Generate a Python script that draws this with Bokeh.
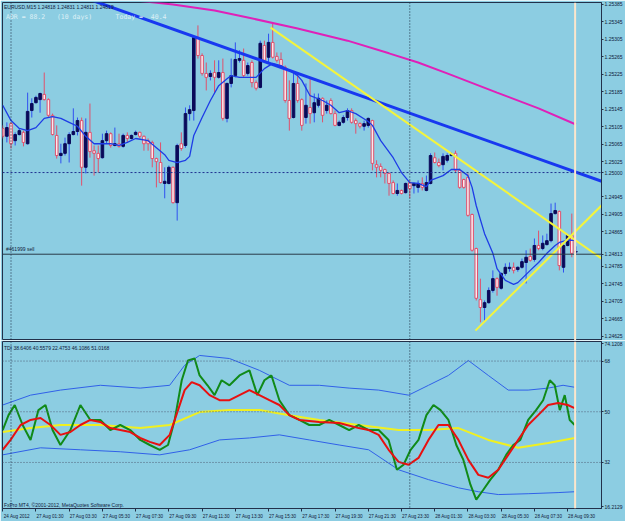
from bokeh.plotting import figure
from bokeh.layouts import column
from bokeh.models import Range1d, FixedTicker, Span, Label, NumeralTickFormatter
from bokeh.embed import file_html
from bokeh.resources import INLINE

# ---------------- data ----------------
bars = list(range(139))
opens = [1.25101,1.25083,1.25112,1.25073,1.25087,1.25092,1.25066,1.25142,1.25160,1.25167,
         1.25179,1.25167,1.25131,1.25085,1.25039,1.25044,1.25066,1.25087,1.25094,1.25119,
         1.25012,1.25092,1.25050,1.25044,1.25034,1.25073,1.25089,1.25062,1.25066,1.25060,
         1.25085,1.25078,1.25087,1.25092,1.25083,1.25073,1.25069,1.25032,1.25023,1.24975,
         1.24975,1.25012,1.24931,1.25066,1.25062,1.25135,1.25142,1.25309,1.25268,1.25227,
         1.25220,1.25229,1.25218,1.25229,1.25124,1.25204,1.25222,1.25257,1.25257,1.25227,
         1.25252,1.25206,1.25195,1.25291,1.25264,1.25298,1.25266,1.25259,1.25241,1.25165,
         1.25126,1.25204,1.25167,1.25126,1.25149,1.25137,1.25154,1.25170,1.25142,1.25165,
         1.25135,1.25108,1.25115,1.25126,1.25142,1.25119,1.25112,1.25106,1.25108,1.25119,
         1.25018,1.25014,1.25007,1.24998,1.24977,1.24952,1.24959,1.24954,1.24977,1.24970,
         1.24966,1.24975,1.24959,1.24975,1.25034,1.25023,1.25018,1.25028,1.25039,1.25044,
         1.25005,1.24984,1.24989,1.24904,1.24826,1.24709,1.24691,1.24702,1.24730,1.24757,
         1.24735,1.24769,1.24780,1.24783,1.24778,1.24783,1.24794,1.24808,1.24801,1.24833,
         1.24826,1.24835,1.24844,1.24906,1.24911,1.24783,1.24833,1.24856,1.24818]
highs = [1.25108,1.25115,1.25115,1.25092,1.25101,1.25096,1.25183,1.25170,1.25176,1.25183,
         1.25229,1.25170,1.25135,1.25108,1.25066,1.25080,1.25092,1.25147,1.25126,1.25126,
         1.25124,1.25158,1.25062,1.25062,1.25089,1.25096,1.25092,1.25103,1.25089,1.25089,
         1.25092,1.25087,1.25096,1.25094,1.25085,1.25078,1.25073,1.25034,1.25069,1.25012,
         1.25016,1.25014,1.25066,1.25092,1.25149,1.25154,1.25312,1.25337,1.25273,1.25252,
         1.25234,1.25257,1.25257,1.25261,1.25206,1.25261,1.25298,1.25280,1.25284,1.25252,
         1.25257,1.25211,1.25302,1.25302,1.25318,1.25344,1.25275,1.25275,1.25245,1.25211,
         1.25229,1.25229,1.25170,1.25204,1.25218,1.25181,1.25181,1.25172,1.25165,1.25170,
         1.25142,1.25119,1.25131,1.25147,1.25147,1.25124,1.25115,1.25119,1.25126,1.25121,
         1.25028,1.25021,1.25009,1.25000,1.24982,1.24975,1.24961,1.24977,1.24982,1.24977,
         1.24982,1.24989,1.24993,1.25044,1.25046,1.25032,1.25044,1.25044,1.25046,1.25050,
         1.25009,1.24986,1.24998,1.24906,1.24828,1.24757,1.24707,1.24737,1.24776,1.24760,
         1.24771,1.24792,1.24794,1.24794,1.24785,1.24803,1.24822,1.24826,1.24849,1.24867,
         1.24856,1.24860,1.24929,1.24931,1.24913,1.24838,1.24858,1.24906,1.24831]
lows = [1.25078,1.25069,1.25055,1.25062,1.25085,1.25060,1.25064,1.25126,1.25158,1.25137,
        1.25165,1.25126,1.25085,1.25032,1.25021,1.25039,1.25023,1.25085,1.25085,1.24970,
        1.24998,1.25034,1.24993,1.25000,1.25032,1.25066,1.25057,1.25060,1.25057,1.25057,
        1.25069,1.25076,1.25085,1.25078,1.25050,1.25050,1.25012,1.24966,1.24975,1.24941,
        1.24973,1.24929,1.24890,1.25050,1.25057,1.25119,1.25119,1.25261,1.25222,1.25188,
        1.25211,1.25183,1.25215,1.25119,1.25115,1.25195,1.25218,1.25252,1.25218,1.25222,
        1.25195,1.25188,1.25193,1.25252,1.25252,1.25261,1.25252,1.25241,1.25160,1.25096,
        1.25124,1.25160,1.25096,1.25112,1.25112,1.25115,1.25149,1.25115,1.25135,1.25133,
        1.25106,1.25106,1.25112,1.25119,1.25112,1.25089,1.25101,1.25096,1.25103,1.25005,
        1.24989,1.24989,1.24975,1.24947,1.24950,1.24947,1.24950,1.24952,1.24941,1.24952,
        1.24954,1.24959,1.24957,1.24973,1.25021,1.25012,1.25005,1.25023,1.25037,1.25000,
        1.24963,1.24963,1.24899,1.24819,1.24707,1.24657,1.24661,1.24700,1.24725,1.24718,
        1.24732,1.24764,1.24773,1.24769,1.24773,1.24780,1.24746,1.24796,1.24796,1.24822,
        1.24822,1.24833,1.24840,1.24904,1.24776,1.24771,1.24831,1.24806,1.24811]
closes = [1.25083,1.25103,1.25066,1.25087,1.25096,1.25069,1.25140,1.25158,1.25172,1.25181,
          1.25167,1.25131,1.25087,1.25039,1.25044,1.25066,1.25087,1.25094,1.25119,1.25012,
          1.25092,1.25048,1.25044,1.25032,1.25073,1.25089,1.25062,1.25066,1.25060,1.25085,
          1.25078,1.25085,1.25092,1.25083,1.25066,1.25066,1.25032,1.25025,1.24977,1.24980,
          1.25012,1.24931,1.25062,1.25055,1.25135,1.25144,1.25309,1.25268,1.25227,1.25218,
          1.25227,1.25218,1.25229,1.25124,1.25204,1.25222,1.25259,1.25261,1.25222,1.25245,
          1.25206,1.25193,1.25296,1.25257,1.25298,1.25264,1.25257,1.25245,1.25165,1.25124,
          1.25204,1.25165,1.25108,1.25154,1.25135,1.25160,1.25170,1.25131,1.25154,1.25135,
          1.25108,1.25115,1.25126,1.25142,1.25115,1.25112,1.25106,1.25112,1.25124,1.25021,
          1.25012,1.25005,1.24998,1.24975,1.24952,1.24959,1.24952,1.24975,1.24963,1.24975,
          1.24975,1.24966,1.24977,1.25039,1.25023,1.25016,1.25037,1.25039,1.25041,1.25005,
          1.24966,1.24966,1.24902,1.24822,1.24712,1.24691,1.24702,1.24730,1.24757,1.24737,
          1.24769,1.24783,1.24783,1.24776,1.24783,1.24796,1.24806,1.24799,1.24833,1.24826,
          1.24838,1.24844,1.24906,1.24913,1.24787,1.24833,1.24856,1.24815,1.24819]

# fast moving average (thin blue)
ma_bar = [0,2,4,6,8,10,12,14,16,18,20,22,26,28,30,32,35,37,39,40,42,44,45,46,48,50,52,54,55,57,
          59,61,63,65,67,69,71,72,74,77,79,81,83,85,88,89,91,94,96,98,100,102,103,106,108,110,
          112,113,114,116,118,119,121,123,124,127,129,131,133,134,136,138]
ma_val = [1.25154,1.25119,1.25101,1.25096,1.25103,1.25124,1.25128,1.25124,1.25115,1.25106,
          1.25083,1.25066,1.25066,1.25062,1.25069,1.25078,1.25073,1.25057,1.25041,1.25028,
          1.25023,1.25028,1.25037,1.25085,1.25126,1.25165,1.25199,1.25215,1.25222,1.25218,
          1.25218,1.25218,1.25238,1.25250,1.25245,1.25234,1.25222,1.25211,1.25176,1.25165,
          1.25154,1.25137,1.25142,1.25135,1.25117,1.25108,1.25073,1.25034,1.25000,1.24977,
          1.24975,1.24968,1.24982,1.24993,1.25007,1.25007,1.24993,1.24966,1.24924,1.24860,
          1.24815,1.24780,1.24753,1.24744,1.24748,1.24776,1.24794,1.24815,1.24833,1.24840,
          1.24845,1.24845]
# slow moving average (magenta)
sma_bar = [20,32,41,51,59,71,83,93,100,107,119,129,138]
sma_val = [1.25408,1.25394,1.25385,1.25371,1.25355,1.25330,1.25302,1.25273,1.25252,1.25227,
           1.25183,1.25147,1.25110]
# trend lines (bar, price) anchors
tl_blue_bar = [21.6, 144.2]
tl_blue_val = [1.25394, 1.24980]
tl_yel1_bar = [64.5, 144.2]
tl_yel1_val = [1.25332, 1.24803]
tl_yel2_bar = [113.8, 144.2]
tl_yel2_val = [1.24638, 1.24925]

# price scale labels (1.24985 and 1.24825 are covered by the marked levels)
price_ticks = [1.24625,1.24665,1.24705,1.24745,1.24785,1.24813,1.24865,1.24905,1.24945,1.25000,
               1.25025,1.25065,1.25105,1.25145,1.25185,1.25225,1.25265,1.25305,1.25345,1.25385]
round_level = 1.25000
order_level = 1.24813
day_separators = [2, 98]
last_bar_line = 137.8

time_tick_bars = [0,8,16,24,32,40,48,56,64,72,80,88,96,104,112,120,128,136]
time_labels = ["24 Aug 2012","27 Aug 01:30","27 Aug 03:30","27 Aug 05:30","27 Aug 07:30",
               "27 Aug 09:30","27 Aug 11:30","27 Aug 13:30","27 Aug 15:30","27 Aug 17:30",
               "27 Aug 19:30","27 Aug 21:30","27 Aug 23:30","28 Aug 01:30","28 Aug 03:30",
               "28 Aug 05:30","28 Aug 07:30","28 Aug 09:30"]

# TDI sub window
rsi_bar = [0,1.4,2.9,4.8,6.7,8.6,10.3,12,13.9,16.3,18.7,21.1,23.5,25.9,28.3,30.7,33.1,35.4,37.8,
           39.8,41.4,43.1,44.6,46.2,47.4,49.3,51,52.7,54.6,57,59.4,61.3,63,64.7,66.6,69,71.4,
           73.8,76.2,78.6,81,83.4,85.7,88.1,90.5,92.9,94.9,96.5,98.2,100.1,102,103.7,105.4,
           107.3,109.2,110.9,112.6,114,115.7,117.4,119.3,121.2,122.9,124.6,126.5,128.4,130.1,
           131.7,132.9,134.1,135.3,136.5,137.7]
rsi_val = [43.5,48.8,52.4,45.3,40.0,50.6,52.4,43.5,38.2,43.5,52.4,47.1,47.1,43.5,45.3,43.5,40.0,
           38.2,36.5,38.2,47.1,61.2,68.2,68.9,62.9,59.4,55.9,61.2,59.4,62.9,64.7,55.9,61.2,62.9,
           54.1,48.8,47.1,45.3,45.3,47.1,45.3,43.5,45.3,43.5,43.5,40.0,29.4,31.2,36.5,40.0,48.8,
           52.4,50.6,47.1,38.2,32.9,24.1,18.8,22.3,25.9,29.4,34.7,38.2,40.0,47.1,50.6,54.1,61.2,
           59.4,50.6,55.9,47.1,45.3]
sig_bar = [0,1.9,4.3,6.7,9.1,11.5,13.9,16.3,18.7,21.1,23.5,25.9,28.3,30.7,33.1,35.4,37.8,40.2,
           42.2,43.8,45.5,47.4,49.8,52.2,54.6,57,59.4,61.8,64.2,66.6,69,71.4,76.2,81,85.7,88.1,
           90.5,92.9,95.3,97.7,100.1,102.5,104.9,107.3,109.7,112.1,114.5,116.9,119.3,121.7,
           124.1,126.5,128.9,131.3,133.7,136,137.7]
sig_val = [36.5,40.0,45.3,47.1,47.8,45.3,41.8,42.8,45.3,47.1,46.4,44.2,43.5,42.8,40.7,39.3,38.2,
           41.8,50.6,57.7,60.5,59.4,55.9,54.1,54.1,55.9,57.7,55.9,54.1,52.4,48.8,47.1,46.4,46.0,
           44.2,43.5,41.8,36.5,32.2,31.2,33.6,40.0,45.3,45.3,40.0,32.9,27.6,26.6,29.4,34.7,40.0,
           45.3,48.8,52.4,53.1,52.4,51.3]
base_bar = [0,6.7,13.9,23.5,33.1,40.2,47.4,54.6,61.8,69,76.2,85.7,95.3,102.5,109.7,116.9,124.1,
            131.3,137.7]
base_val = [42.8,44.2,45.3,45.3,44.2,45.3,49.9,50.6,50.6,48.8,47.1,45.3,43.5,43.5,44.2,40.0,37.2,
            38.9,40.7]
up_bar = [0,6.7,13.9,23.5,33.1,40.2,43.8,47.4,54.6,61.8,69,76.2,83.4,90.5,97.7,102.5,107.3,
          112.1,116.9,121.7,126.5,131.3,134.9,137.7]
up_val = [52.4,55.9,57.7,59.4,58.4,59.4,66.5,70.0,68.9,64.7,59.4,59.4,58.4,57.7,55.9,59.4,62.9,
          68.2,62.9,57.7,57.7,58.4,59.4,58.7]
dn_bar = [0,9.1,18.7,28.3,37.8,45,52.2,59.4,66.6,73.8,81,88.1,95.3,102.5,109.7,114.5,119.3,
          126.5,133.7,137.7]
dn_val = [34.7,37.2,36.5,35.8,34.7,36.5,40.0,40.7,41.8,40.0,38.2,36.5,29.4,25.9,23.0,21.6,20.6,
          20.9,21.3,21.6]
tdi_levels = [32, 50, 68]
tdi_ticks = [16.2129, 32, 50, 68, 74.1208]
tdi_tick_labels = ["16.2129", "32", "50", "68", "74.1208"]

# ---------------- style ----------------
BG = "#8CCDE2"
FRAME = "#22304A"
TXT = "#10203A"
FONT = "Liberation Sans"
NB = "\u00a0"

xr = Range1d(-0.05, 144.15)

p1 = figure(width=625, height=340, x_range=xr, y_range=Range1d(1.246154, 1.253894),
            output_backend="svg", toolbar_location=None, y_axis_location="right",
            x_axis_location=None, min_border_left=2, min_border_right=21,
            min_border_top=2, min_border_bottom=0, background_fill_color=BG,
            border_fill_color=BG, outline_line_color=FRAME)
p1.grid.visible = False

def style_axis(ax):
    ax.axis_line_color = FRAME
    ax.major_tick_line_color = FRAME
    ax.minor_tick_line_color = FRAME
    ax.major_tick_out = 2
    ax.major_tick_in = 0
    ax.minor_tick_out = 0
    ax.minor_tick_in = 0
    ax.major_label_text_font = FONT
    ax.major_label_text_font_size = "5px"
    ax.major_label_text_color = TXT
    ax.major_label_standoff = 1

ya = p1.yaxis[0]
ya.ticker = FixedTicker(ticks=price_ticks)
ya.formatter = NumeralTickFormatter(format="0.00000")
style_axis(ya)

p1.add_layout(Span(location=round_level, dimension="width", line_color="#1F2F90",
                   line_dash="2 2", line_width=1))
p1.add_layout(Span(location=order_level, dimension="width", line_color="#2A3A48",
                   line_width=1))
for d in day_separators:
    p1.add_layout(Span(location=d, dimension="height", line_color="#1A2A40",
                       line_dash="1 2", line_width=1))
p1.add_layout(Span(location=last_bar_line, dimension="height", line_color="#FBE6CC",
                   line_width=2))

# candles
bull = [i for i in bars if closes[i] >= opens[i]]
bear = [i for i in bars if closes[i] < opens[i]]
p1.segment(x0=bull, x1=bull, y0=[lows[i] for i in bull], y1=[highs[i] for i in bull],
           line_color="#3050F0", line_width=1)
p1.segment(x0=bear, x1=bear, y0=[lows[i] for i in bear], y1=[highs[i] for i in bear],
           line_color="#E0506C", line_width=1)
p1.vbar(x=bull, width=0.62, top=[closes[i] for i in bull], bottom=[opens[i] for i in bull],
        fill_color="#0A0A5A", line_color="#0A0A5A", line_width=1)
p1.vbar(x=bear, width=0.62, top=[opens[i] for i in bear], bottom=[closes[i] for i in bear],
        fill_color="#FBEAEE", line_color="#E0506C", line_width=1)

p1.line(sma_bar, sma_val, line_color="#E020B8", line_width=2)
p1.line(ma_bar, ma_val, line_color="#1E3CE6", line_width=1.3)
p1.line(tl_blue_bar, tl_blue_val, line_color="#1838F0", line_width=3)
p1.line(tl_yel1_bar, tl_yel1_val, line_color="#F4F43C", line_width=2)
p1.line(tl_yel2_bar, tl_yel2_val, line_color="#F4F43C", line_width=2)

p1.add_layout(Label(x=0.3, y=1.25380, text="EURUSD,M15 1.24818 1.24831 1.24811 1.24819",
                    text_font=FONT, text_font_size="5px", text_color=TXT,
                    text_baseline="middle"))
adr_text = "ADR = 88.2" + NB * 3 + "(10 days)" + NB * 6 + "Today =" + NB * 2 + "40.4"
p1.add_layout(Label(x=0.8, y=1.25356, text=adr_text,
                    text_font="DejaVu Sans Mono", text_font_size="6.5px",
                    text_color="#DDF0F6", text_baseline="middle"))
p1.add_layout(Label(x=0.8, y=1.24825, text="#461999 sell", text_font=FONT,
                    text_font_size="5px", text_color=TXT, text_baseline="middle"))

# ---------------- TDI pane ----------------
p2 = figure(width=625, height=181, x_range=xr, y_range=Range1d(15.65, 74.95),
            output_backend="svg", toolbar_location=None, y_axis_location="right",
            min_border_left=2, min_border_right=21, min_border_top=1, min_border_bottom=12,
            background_fill_color=BG, border_fill_color=BG, outline_line_color=FRAME)
p2.grid.visible = False
ya2 = p2.yaxis[0]
ya2.ticker = FixedTicker(ticks=tdi_ticks)
ya2.major_label_overrides = {t: s for t, s in zip(tdi_ticks, tdi_tick_labels)}
style_axis(ya2)

# time labels sit to the right of their tick, as in the terminal
label_shift = 3.4
label_pos = [round(b + label_shift, 1) for b in time_tick_bars]
xa = p2.xaxis[0]
xa.ticker = FixedTicker(ticks=label_pos, minor_ticks=time_tick_bars)
xa.major_label_overrides = {b: s for b, s in zip(label_pos, time_labels)}
style_axis(xa)
xa.major_tick_out = 0
xa.minor_tick_out = 3
xa.major_label_text_font_size = "4.6px"
xa.major_label_standoff = 2

for lv in tdi_levels:
    p2.add_layout(Span(location=lv, dimension="width", line_color="#506078",
                       line_dash="1 2", line_width=1))
for d in day_separators:
    p2.add_layout(Span(location=d, dimension="height", line_color="#1A2A40",
                       line_dash="1 2", line_width=1))
p2.add_layout(Span(location=last_bar_line, dimension="height", line_color="#FBE6CC",
                   line_width=2))

p2.line(up_bar, up_val, line_color="#3060E8", line_width=1)
p2.line(dn_bar, dn_val, line_color="#3060E8", line_width=1)
p2.line(base_bar, base_val, line_color="#F0F020", line_width=2)
p2.line(rsi_bar, rsi_val, line_color="#108A18", line_width=2)
p2.line(sig_bar, sig_val, line_color="#E81010", line_width=2)

p2.add_layout(Label(x=0.3, y=72.8, text="TDI 38.6406 40.5579 22.4753 46.1086 51.0168",
                    text_font=FONT, text_font_size="5px", text_color=TXT,
                    text_baseline="middle"))
p2.add_layout(Label(x=0.3, y=16.9, text="FxPro MT4, \u00a92001-2012, MetaQuotes Software Corp.",
                    text_font=FONT, text_font_size="5px", text_color=TXT,
                    text_baseline="middle"))

layout = column(p1, p2, spacing=0)
open("out.html", "w").write(file_html(layout, INLINE))
